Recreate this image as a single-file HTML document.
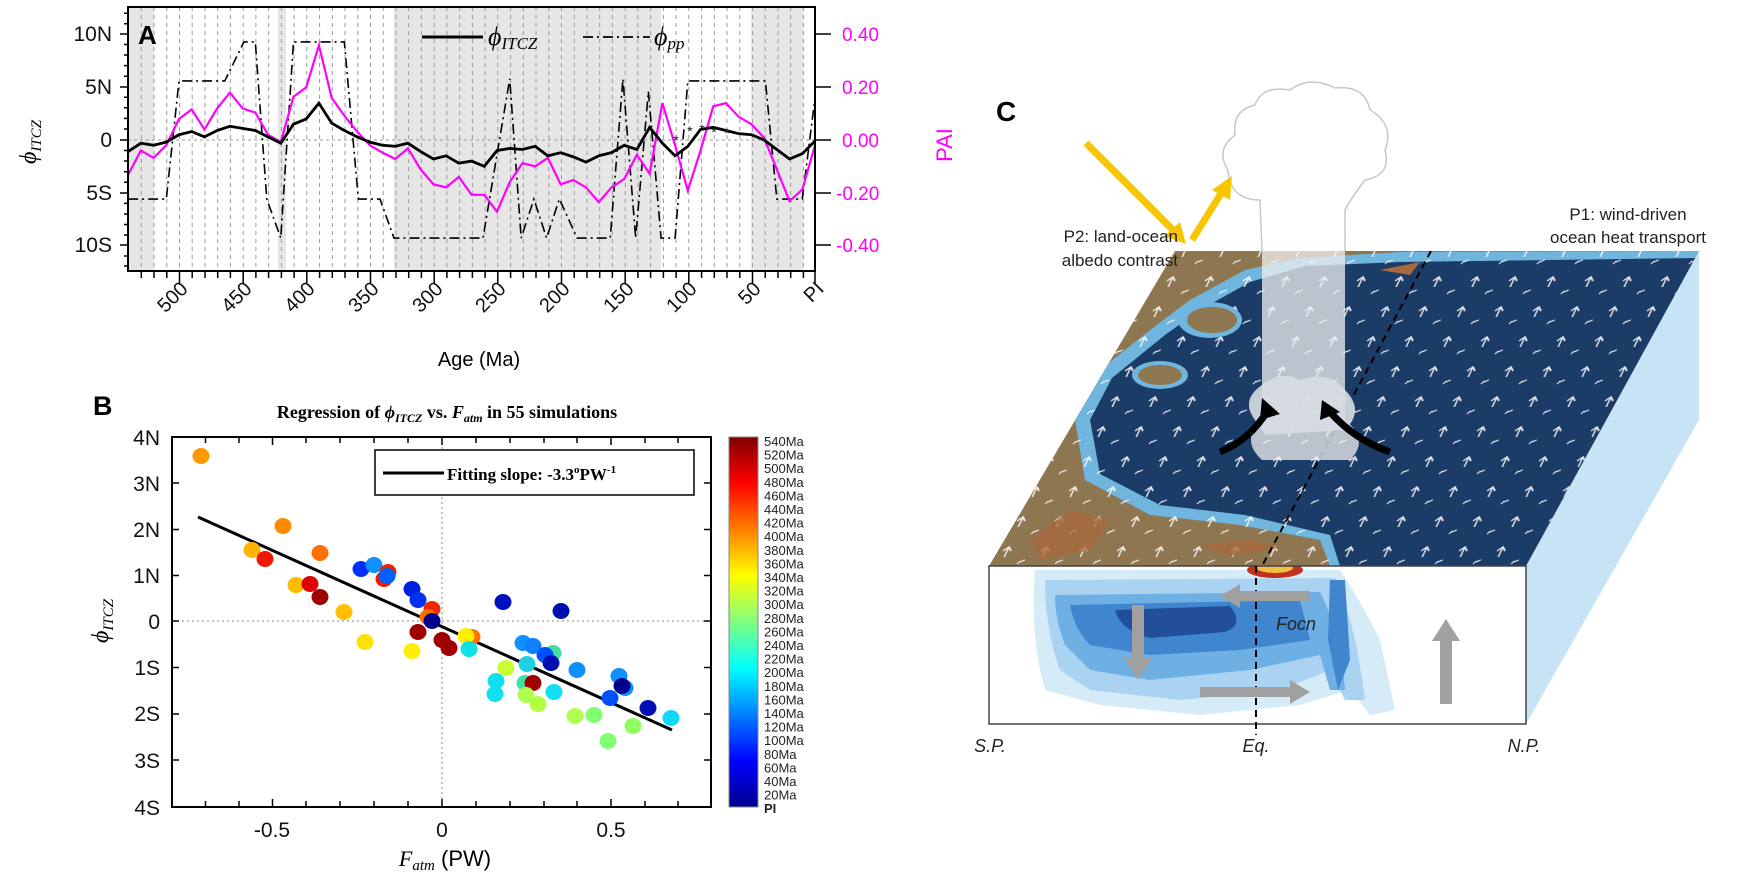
<!DOCTYPE html>
<html><head><meta charset="utf-8"><style>
html,body{margin:0;padding:0;background:#fff;}
svg{display:block;font-family:"Liberation Sans",sans-serif;}
</style></head><body>
<svg width="1738" height="887" viewBox="0 0 1738 887" xmlns="http://www.w3.org/2000/svg">
<defs>
<linearGradient id="jet" x1="0" y1="1" x2="0" y2="0">
<stop offset="0" stop-color="#00008f"/><stop offset="0.125" stop-color="#0000ff"/>
<stop offset="0.375" stop-color="#00ffff"/><stop offset="0.625" stop-color="#ffff00"/>
<stop offset="0.875" stop-color="#ff0000"/><stop offset="1" stop-color="#800000"/>
</linearGradient>
<pattern id="wind" width="38" height="30" patternUnits="userSpaceOnUse" patternTransform="skewX(-25)">
<path d="M10 8 l0 9 M6 11 l4 -4 4 4" stroke="#fff" stroke-width="1.6" fill="none"/>
<path d="M28 22 l4 -2 M26 24 l2 -3" stroke="#fff" stroke-width="1.4" fill="none"/>
</pattern>
<clipPath id="topface"><polygon points="1175,251 1699,251 1526,566 989,566"/></clipPath>
<clipPath id="front"><rect x="989" y="566" width="537" height="158"/></clipPath>
</defs>

<!-- ================= PANEL A ================= -->
<g>
<rect x="128" y="7" width="687" height="264" fill="#fff"/>
<rect x="128" y="7" width="26" height="264" fill="#e6e6e6"/>
<rect x="278" y="7" width="8" height="264" fill="#e6e6e6"/>
<rect x="394" y="7" width="267" height="264" fill="#e6e6e6"/>
<rect x="751" y="7" width="52" height="264" fill="#e6e6e6"/>
<g stroke="#9a9a9a" stroke-width="1" stroke-dasharray="4,4">
<path d="M141.3 7V271M154 7V271M166.8 7V271M179.5 7V271M192.2 7V271M205 7V271M217.7 7V271M230.4 7V271M243.2 7V271M255.9 7V271M268.6 7V271M281.4 7V271M294.1 7V271M306.8 7V271M319.6 7V271M332.3 7V271M345 7V271M357.8 7V271M370.5 7V271M383.2 7V271M396 7V271M408.7 7V271M421.4 7V271M434.2 7V271M446.9 7V271M459.6 7V271M472.4 7V271M485.1 7V271M497.8 7V271M510.6 7V271M523.3 7V271M536 7V271M548.8 7V271M561.5 7V271M574.2 7V271M587 7V271M599.7 7V271M612.4 7V271M625.2 7V271M637.9 7V271M650.6 7V271M663.4 7V271M676.1 7V271M688.8 7V271M701.6 7V271M714.3 7V271M727 7V271M739.8 7V271M752.5 7V271M765.2 7V271M778 7V271M790.7 7V271M803.4 7V271"/>
</g>
<line x1="128" y1="140" x2="815" y2="140" stroke="#999" stroke-dasharray="3,3"/>
<g transform="translate(815,140) scale(-1.272,-10.54)" fill="none">
<polyline vector-effect="non-scaling-stroke" stroke="#000" stroke-width="1.6" stroke-dasharray="10,4,2,4" points="540,-5.6 510,-5.6 500,5.6 464,5.6 449,9.3 440,9.3 431,-5.6 420,-9.3 410,9.3 370,9.3 359,-5.6 342,-5.6 331,-9.3 261,-9.3 240,5.8 231,-9.3 221,-5.6 211,-9.3 201,-5.6 187,-9.3 161,-9.3 151,5.8 141,-9.3 131,4.6 121,-9.3 110,-9.3 100,5.6 39,5.6 30,-5.6 10,-5.6 0,4"/>
<polyline vector-effect="non-scaling-stroke" stroke="#ff00ff" stroke-width="2.2" points="540,-3.3 530,-1 520,-1.7 510,-0.5 500,2 490,2.9 480,1 470,3 460,4.5 450,3 440,2.6 430,0.5 420,-0.2 410,4.1 400,5 390,9 380,4 370,2.3 360,0.8 350,-0.5 340,-1.2 330,-1.8 320,-0.8 310,-2.8 300,-4.2 290,-4.5 280,-3.5 270,-5.2 260,-5.2 250,-6.8 240,-4 230,-2.2 220,-2.5 210,-1.7 200,-4.2 190,-3.8 180,-4.5 170,-5.9 160,-4.5 150,-3.7 140,-1.4 130,-3.2 120,3.5 110,-0.5 100,-4.8 90,-1 80,3.2 70,3.5 60,2.2 50,1.5 40,0.2 30,-2.8 20,-5.8 10,-4.7 0,-0.5"/>
<polyline vector-effect="non-scaling-stroke" stroke="#000" stroke-width="2.8" points="540,-1.1 530,-0.3 520,-0.5 510,-0.2 500,0.5 490,0.8 480,0.3 470,0.9 460,1.3 450,1.1 440,0.9 430,0.3 420,-0.3 410,1.5 400,2 390,3.5 380,1.6 370,0.9 360,0.3 350,-0.2 340,-0.5 330,-0.6 320,-0.3 310,-1.1 300,-1.8 290,-1.5 280,-2.2 270,-2 260,-2.5 250,-1 240,-0.8 230,-0.9 220,-0.6 210,-1.5 200,-1.2 190,-1.6 180,-2.1 170,-1.5 160,-1.2 150,-0.5 140,-0.9 130,1.2 120,-0.3 110,-1.5 100,-0.6 90,1 80,1.2 70,0.9 60,0.6 50,0.5 40,0 30,-0.9 20,-1.8 10,-1.3 0,-0.1"/>
</g>
<g font-size="14" text-anchor="middle" fill="#222"><text x="676" y="145">*</text><text x="690" y="136">*</text><text x="702" y="134">*</text><text x="714" y="137">*</text><text x="727" y="138">*</text></g>
<rect x="128" y="7" width="687" height="264" fill="none" stroke="#000" stroke-width="2"/>
<g stroke="#000" stroke-width="1.5">
<path d="M120 34H128M120 87H128M120 140H128M120 193H128M120 245H128"/>
<path d="M124 13.3H128M124 23.8H128M124 44.5H128M124 55H128M124 65.6H128M124 76.2H128M124 97.3H128M124 107.8H128M124 118.4H128M124 129H128M124 150.5H128M124 161H128M124 171.7H128M124 182.3H128M124 203.4H128M124 214H128M124 224.5H128M124 235H128M124 256H128M124 266H128"/>
<path d="M815 34H831M815 87H831M815 140H831M815 193H831M815 245H831"/>
<path d="M179.5 271V283M243.2 271V283M306.8 271V283M370.5 271V283M434.2 271V283M497.8 271V283M561.5 271V283M625.2 271V283M688.8 271V283M752.5 271V283M815 271V283"/>
<path d="M141.3 271V278M154 271V278M166.8 271V278M192.2 271V278M205 271V278M217.7 271V278M230.4 271V278M255.9 271V278M268.6 271V278M281.4 271V278M294.1 271V278M319.6 271V278M332.3 271V278M345 271V278M357.8 271V278M383.2 271V278M396 271V278M408.7 271V278M421.4 271V278M446.9 271V278M459.6 271V278M472.4 271V278M485.1 271V278M510.6 271V278M523.3 271V278M536 271V278M548.8 271V278M574.2 271V278M587 271V278M599.7 271V278M612.4 271V278M637.9 271V278M650.6 271V278M663.4 271V278M676.1 271V278M701.6 271V278M714.3 271V278M727 271V278M739.8 271V278M765.2 271V278M778 271V278M790.7 271V278M803.4 271V278"/>
</g>
<g font-size="21" text-anchor="end" fill="#111">
<text x="112" y="41">10N</text><text x="112" y="94">5N</text><text x="112" y="147">0</text><text x="112" y="200">5S</text><text x="112" y="252">10S</text>
</g>
<g font-size="19" fill="#ff00ff">
<text x="842" y="41">0.40</text><text x="842" y="94">0.20</text><text x="842" y="147">0.00</text><text x="836" y="200">-0.20</text><text x="836" y="252">-0.40</text>
</g>
<text transform="translate(952,145) rotate(-90)" font-size="22" fill="#ff00ff" text-anchor="middle">PAI</text>
<text transform="translate(36,142) rotate(-90)" font-size="24" font-family="Liberation Serif,serif" font-style="italic" text-anchor="middle">ϕ<tspan font-size="15" dy="5">ITCZ</tspan></text>
<g font-size="20" text-anchor="end" fill="#111">
<text transform="translate(189,290) rotate(-45)">500</text>
<text transform="translate(253,290) rotate(-45)">450</text>
<text transform="translate(316,290) rotate(-45)">400</text>
<text transform="translate(380,290) rotate(-45)">350</text>
<text transform="translate(444,290) rotate(-45)">300</text>
<text transform="translate(507,290) rotate(-45)">250</text>
<text transform="translate(571,290) rotate(-45)">200</text>
<text transform="translate(635,290) rotate(-45)">150</text>
<text transform="translate(698,290) rotate(-45)">100</text>
<text transform="translate(762,290) rotate(-45)">50</text>
<text transform="translate(825,290) rotate(-45)">PI</text>
</g>
<text x="479" y="366" font-size="20" text-anchor="middle">Age (Ma)</text>
<text x="138" y="44" font-size="26" font-weight="bold">A</text>
<line x1="422" y1="37" x2="483" y2="37" stroke="#000" stroke-width="3"/>
<text x="488" y="45" font-size="26" font-family="Liberation Serif,serif" font-style="italic">ϕ<tspan font-size="17" dy="4">ITCZ</tspan></text>
<line x1="583" y1="37" x2="650" y2="37" stroke="#000" stroke-width="1.8" stroke-dasharray="10,4,2,4"/>
<text x="654" y="45" font-size="26" font-family="Liberation Serif,serif" font-style="italic">ϕ<tspan font-size="17" dy="4">pp</tspan></text>
</g>

<!-- ================= PANEL B ================= -->
<g>
<text x="93" y="415" font-size="27" font-weight="bold">B</text>
<text x="447" y="418" font-size="18" font-weight="bold" font-family="Liberation Serif,serif" text-anchor="middle">Regression of <tspan font-style="italic">ϕ<tspan font-size="12" dy="4">ITCZ</tspan></tspan><tspan dy="-4"> vs. </tspan><tspan font-style="italic">F<tspan font-size="12" dy="4">atm</tspan></tspan><tspan dy="-4"> in 55 simulations</tspan></text>
<rect x="172" y="437" width="539" height="370" fill="#fff" stroke="#000" stroke-width="2"/>
<line x1="442" y1="437" x2="442" y2="807" stroke="#888" stroke-dasharray="2,3"/>
<line x1="172" y1="621" x2="711" y2="621" stroke="#888" stroke-dasharray="2,3"/>
<g stroke="#000" stroke-width="1.5">
<path d="M172 437h7M172 483h7M172 529.5h7M172 575.5h7M172 621h7M172 667.5h7M172 714h7M172 760h7M172 807h7"/>
<path d="M711 437h-7M711 483h-7M711 529.5h-7M711 575.5h-7M711 621h-7M711 667.5h-7M711 714h-7M711 760h-7M711 807h-7"/>
<path d="M205.5 807v-6M239 807v-6M272.5 807v-8M306 807v-6M340 807v-6M374 807v-6M408 807v-6M442 807v-8M476 807v-6M510 807v-6M544 807v-6M577 807v-6M611 807v-8M645 807v-6M678 807v-6"/>
<path d="M205.5 437v6M239 437v6M272.5 437v8M306 437v6M340 437v6M374 437v6M408 437v6M442 437v8M476 437v6M510 437v6M544 437v6M577 437v6M611 437v8M645 437v6M678 437v6"/>
</g>
<g font-size="21" text-anchor="end" fill="#111">
<text x="160" y="445">4N</text><text x="160" y="491">3N</text><text x="160" y="537">2N</text><text x="160" y="583">1N</text><text x="160" y="629">0</text><text x="160" y="675">1S</text><text x="160" y="721">2S</text><text x="160" y="768">3S</text><text x="160" y="815">4S</text>
</g>
<g font-size="21" text-anchor="middle" fill="#111"><text x="272" y="837">-0.5</text><text x="442" y="837">0</text><text x="611" y="837">0.5</text></g>
<text x="445" y="866" font-size="22" text-anchor="middle"><tspan font-family="Liberation Serif,serif" font-style="italic">F<tspan font-size="15" dy="4">atm</tspan></tspan><tspan dy="-4"> (PW)</tspan></text>
<text transform="translate(108,621) rotate(-90)" font-size="24" font-family="Liberation Serif,serif" font-style="italic" text-anchor="middle">ϕ<tspan font-size="15" dy="5">ITCZ</tspan></text>
<line x1="198" y1="517" x2="672" y2="730" stroke="#000" stroke-width="3"/>
<g stroke="none">
<ellipse cx="201" cy="456" rx="8.5" ry="8" fill="#ff9900"/>
<ellipse cx="283" cy="526" rx="8.5" ry="8" fill="#ff8a00"/>
<ellipse cx="252" cy="550" rx="8.5" ry="8" fill="#ffb300"/>
<ellipse cx="265" cy="559" rx="8.5" ry="8" fill="#f01800"/>
<ellipse cx="320" cy="553" rx="8.5" ry="8" fill="#ff7000"/>
<ellipse cx="361" cy="569" rx="8.5" ry="8" fill="#0030ff"/>
<ellipse cx="374" cy="565" rx="8.5" ry="8" fill="#1090ff"/>
<ellipse cx="388" cy="572" rx="8.5" ry="8" fill="#f02000"/>
<ellipse cx="384" cy="579" rx="8.5" ry="8" fill="#f01800"/>
<ellipse cx="387" cy="576" rx="8.5" ry="8" fill="#0060ff"/>
<ellipse cx="296" cy="585" rx="8.5" ry="8" fill="#ffbb00"/>
<ellipse cx="310" cy="584" rx="8.5" ry="8" fill="#e00000"/>
<ellipse cx="320" cy="597" rx="8.5" ry="8" fill="#a00000"/>
<ellipse cx="344" cy="612" rx="8.5" ry="8" fill="#ffc000"/>
<ellipse cx="412" cy="589" rx="8.5" ry="8" fill="#0020e0"/>
<ellipse cx="418" cy="600" rx="8.5" ry="8" fill="#0030f0"/>
<ellipse cx="432" cy="609" rx="8.5" ry="8" fill="#f02800"/>
<ellipse cx="428" cy="617" rx="8.5" ry="8" fill="#ff7000"/>
<ellipse cx="432" cy="621" rx="8.5" ry="8" fill="#00008a"/>
<ellipse cx="418" cy="632" rx="8.5" ry="8" fill="#a00000"/>
<ellipse cx="365" cy="642" rx="8.5" ry="8" fill="#ffe000"/>
<ellipse cx="412" cy="651" rx="8.5" ry="8" fill="#ffee00"/>
<ellipse cx="442" cy="640" rx="8.5" ry="8" fill="#a00000"/>
<ellipse cx="449" cy="648" rx="8.5" ry="8" fill="#a00000"/>
<ellipse cx="472" cy="637" rx="8.5" ry="8" fill="#ff7000"/>
<ellipse cx="466" cy="636" rx="8.5" ry="8" fill="#ffee00"/>
<ellipse cx="469" cy="649" rx="8.5" ry="8" fill="#10e0e8"/>
<ellipse cx="503" cy="602" rx="8.5" ry="8" fill="#0010c0"/>
<ellipse cx="561" cy="611" rx="8.5" ry="8" fill="#0010b0"/>
<ellipse cx="523" cy="643" rx="8.5" ry="8" fill="#1090ff"/>
<ellipse cx="533" cy="646" rx="8.5" ry="8" fill="#1080ff"/>
<ellipse cx="553" cy="653" rx="8.5" ry="8" fill="#40e0a0"/>
<ellipse cx="545" cy="655" rx="8.5" ry="8" fill="#0050ff"/>
<ellipse cx="551" cy="663" rx="8.5" ry="8" fill="#0010b0"/>
<ellipse cx="527" cy="664" rx="8.5" ry="8" fill="#20d0e0"/>
<ellipse cx="506" cy="668" rx="8.5" ry="8" fill="#c8ff30"/>
<ellipse cx="577" cy="670" rx="8.5" ry="8" fill="#1090ff"/>
<ellipse cx="496" cy="681" rx="8.5" ry="8" fill="#10e0f0"/>
<ellipse cx="525" cy="683" rx="8.5" ry="8" fill="#40e0a0"/>
<ellipse cx="533" cy="683" rx="8.5" ry="8" fill="#a00000"/>
<ellipse cx="495" cy="694" rx="8.5" ry="8" fill="#10e0f0"/>
<ellipse cx="526" cy="695" rx="8.5" ry="8" fill="#b0ff50"/>
<ellipse cx="554" cy="692" rx="8.5" ry="8" fill="#10e0f0"/>
<ellipse cx="538" cy="704" rx="8.5" ry="8" fill="#b0ff40"/>
<ellipse cx="619" cy="676" rx="8.5" ry="8" fill="#1090ff"/>
<ellipse cx="625" cy="688" rx="8.5" ry="8" fill="#1090ff"/>
<ellipse cx="622" cy="686" rx="8.5" ry="8" fill="#00008a"/>
<ellipse cx="610" cy="698" rx="8.5" ry="8" fill="#0050ff"/>
<ellipse cx="648" cy="708" rx="8.5" ry="8" fill="#0010b0"/>
<ellipse cx="671" cy="718" rx="8.5" ry="8" fill="#10d8f8"/>
<ellipse cx="575" cy="716" rx="8.5" ry="8" fill="#b0ff50"/>
<ellipse cx="594" cy="715" rx="8.5" ry="8" fill="#80ff70"/>
<ellipse cx="633" cy="726" rx="8.5" ry="8" fill="#90ff60"/>
<ellipse cx="608" cy="741" rx="8.5" ry="8" fill="#80ff70"/>
</g>
<rect x="375" y="450" width="319" height="45" fill="#fff" stroke="#000" stroke-width="1.5"/>
<line x1="383" y1="473" x2="444" y2="473" stroke="#000" stroke-width="3"/>
<text x="447" y="480" font-size="17" font-weight="bold" font-family="Liberation Serif,serif">Fitting slope: -3.3<tspan font-size="11" dy="-7">o</tspan><tspan dy="7">PW</tspan><tspan font-size="11" dy="-7">-1</tspan></text>
<rect x="729" y="437" width="29" height="370" fill="url(#jet)" stroke="#888"/>
<g font-size="13" fill="#222" font-family="Liberation Sans Narrow,Liberation Sans,sans-serif">
<text x="764" y="446">540Ma</text><text x="764" y="459.6">520Ma</text><text x="764" y="473.2">500Ma</text><text x="764" y="486.8">480Ma</text><text x="764" y="500.4">460Ma</text><text x="764" y="514">440Ma</text><text x="764" y="527.6">420Ma</text><text x="764" y="541.2">400Ma</text><text x="764" y="554.8">380Ma</text><text x="764" y="568.4">360Ma</text><text x="764" y="582">340Ma</text><text x="764" y="595.6">320Ma</text><text x="764" y="609.2">300Ma</text><text x="764" y="622.8">280Ma</text><text x="764" y="636.4">260Ma</text><text x="764" y="650">240Ma</text><text x="764" y="663.6">220Ma</text><text x="764" y="677.2">200Ma</text><text x="764" y="690.8">180Ma</text><text x="764" y="704.4">160Ma</text><text x="764" y="718">140Ma</text><text x="764" y="731.6">120Ma</text><text x="764" y="745.2">100Ma</text><text x="764" y="758.8">80Ma</text><text x="764" y="772.4">60Ma</text><text x="764" y="786">40Ma</text><text x="764" y="799.6">20Ma</text><text x="764" y="813" font-weight="bold">PI</text>
</g>
</g>

<!-- ================= PANEL C ================= -->
<g>
<text x="996" y="121" font-size="28" font-weight="bold">C</text>
<polygon points="1526,566 1699,251 1699,420 1526,724" fill="#c6e4f6"/>
<polygon points="1175,251 1699,251 1526,566 989,566" fill="#8d7650"/>
<g clip-path="url(#topface)">
<path d="M1150 330 L1190 300 L1245 270 L1300 258 L1400 252 L1699 251 L1526 566 L1330 566 L1320 540 L1240 525 L1150 515 L1085 480 L1075 420 L1100 370 Z" fill="#6fb5dd"/>
<path d="M1165 335 L1200 310 L1250 282 L1305 266 L1400 262 L1699 258 L1526 566 L1340 566 L1330 535 L1245 515 L1160 505 L1100 474 L1090 420 L1112 378 Z" fill="#1c3c68"/>
<rect x="980" y="240" width="730" height="340" fill="url(#wind)" opacity="0.85"/>
<ellipse cx="1160" cy="375" rx="28" ry="14" fill="#6fb5dd"/><ellipse cx="1160" cy="375" rx="22" ry="10" fill="#8d7650"/>
<ellipse cx="1210" cy="320" rx="32" ry="18" fill="#6fb5dd"/><ellipse cx="1212" cy="320" rx="25" ry="13" fill="#8d7650"/>
<path d="M1030 540 L1070 510 L1110 520 L1090 550 L1040 560Z" fill="#a86a3c" opacity="0.8"/>
<path d="M1200 545 L1250 540 L1280 548 L1230 556Z" fill="#a86a3c" opacity="0.8"/>
<path d="M1380 270 L1420 262 L1410 275Z" fill="#a86a3c"/>
<line x1="1431" y1="251" x2="1262" y2="566" stroke="#000" stroke-width="2" stroke-dasharray="7,5"/>
</g>
<path d="M1262 251 L1262 420 Q1240 440 1262 460 L1350 460 Q1370 440 1345 420 L1345 251 Z" fill="#f0f0f0" opacity="0.75"/>
<path d="M1262 251 L1260 200 Q1230 200 1228 170 Q1215 150 1235 135 Q1232 110 1255 105 Q1262 85 1290 90 Q1310 75 1335 88 Q1365 85 1370 110 Q1395 125 1385 150 Q1392 175 1365 180 Q1350 200 1345 210 L1345 251" fill="#fff" stroke="#c8c8c8" stroke-width="1.5"/>
<path d="M1255 420 Q1240 400 1262 385 Q1280 370 1300 380 Q1330 370 1345 390 Q1365 410 1345 430 L1265 435 Z" fill="#d8dde3" opacity="0.9"/>
<path d="M1220 452 Q1250 440 1268 410" stroke="#000" stroke-width="7" fill="none"/>
<polygon points="1262,398 1280,414 1260,420" fill="#000"/>
<path d="M1390 452 Q1355 440 1330 412" stroke="#000" stroke-width="7" fill="none"/>
<polygon points="1322,400 1340,412 1320,420" fill="#000"/>
<line x1="1086" y1="143" x2="1176" y2="233" stroke="#f7c600" stroke-width="7"/>
<polygon points="1186,244 1164,236 1180,222" fill="#f7c600"/>
<line x1="1192" y1="240" x2="1222" y2="192" stroke="#f7c600" stroke-width="7"/>
<polygon points="1232,176 1230,200 1212,190" fill="#f7c600"/>
<g font-size="17" fill="#222">
<text x="1178" y="242" text-anchor="end">P2: land-ocean</text>
<text x="1178" y="266" text-anchor="end">albedo contrast</text>
<text x="1628" y="220" text-anchor="middle">P1: wind-driven</text>
<text x="1628" y="243" text-anchor="middle">ocean heat transport</text>
</g>
<rect x="989" y="566" width="537" height="158" fill="#fff"/>
<g clip-path="url(#front)">
<path d="M1035 570 L1340 570 Q1360 600 1380 640 L1395 710 L1370 715 L1350 690 L1300 705 L1200 715 L1100 705 L1045 690 Q1030 640 1035 570Z" fill="#d6ebf8"/>
<path d="M1045 580 L1335 578 Q1355 620 1365 700 L1345 700 L1330 670 L1280 690 L1180 700 L1090 690 L1060 670 Q1045 630 1045 580Z" fill="#a9d3f0"/>
<path d="M1055 595 L1320 592 Q1340 630 1345 690 L1330 690 L1320 655 L1250 670 L1150 680 L1090 670 L1065 645 Q1055 620 1055 595Z" fill="#6eb0e4"/>
<path d="M1070 605 L1300 600 L1310 640 L1240 650 L1150 655 L1090 645 Q1075 630 1070 605Z" fill="#3f86cf"/>
<path d="M1115 610 L1230 606 Q1245 625 1225 632 L1150 638 Q1120 630 1115 610Z" fill="#234e9a"/>
<ellipse cx="1275" cy="570" rx="28" ry="8" fill="#c23020"/>
<ellipse cx="1275" cy="568" rx="18" ry="5" fill="#f0c040"/>
<path d="M1330 580 L1345 580 L1350 660 L1338 690 L1328 640Z" fill="#3f86cf"/>
</g>
<rect x="989" y="566" width="537" height="158" fill="none" stroke="#444" stroke-width="1.5"/>
<line x1="1256" y1="566" x2="1256" y2="735" stroke="#000" stroke-width="2" stroke-dasharray="7,5"/>
<g fill="#a0a0a0">
<polygon points="1310,591 1240,591 1240,584 1220,596 1240,608 1240,601 1310,601"/>
<polygon points="1132,605 1144,605 1144,658 1152,658 1138,680 1124,658 1132,658"/>
<polygon points="1200,687 1290,687 1290,680 1310,692 1290,704 1290,697 1200,697"/>
<polygon points="1440,704 1452,704 1452,641 1460,641 1446,619 1432,641 1440,641"/>
</g>
<text x="1276" y="630" font-size="18" font-style="italic" fill="#222">Focn</text>
<g font-size="18" font-style="italic" fill="#222" text-anchor="middle">
<text x="990" y="752">S.P.</text><text x="1256" y="752">Eq.</text><text x="1524" y="752">N.P.</text>
</g>
</g>
</svg>
</body></html>
